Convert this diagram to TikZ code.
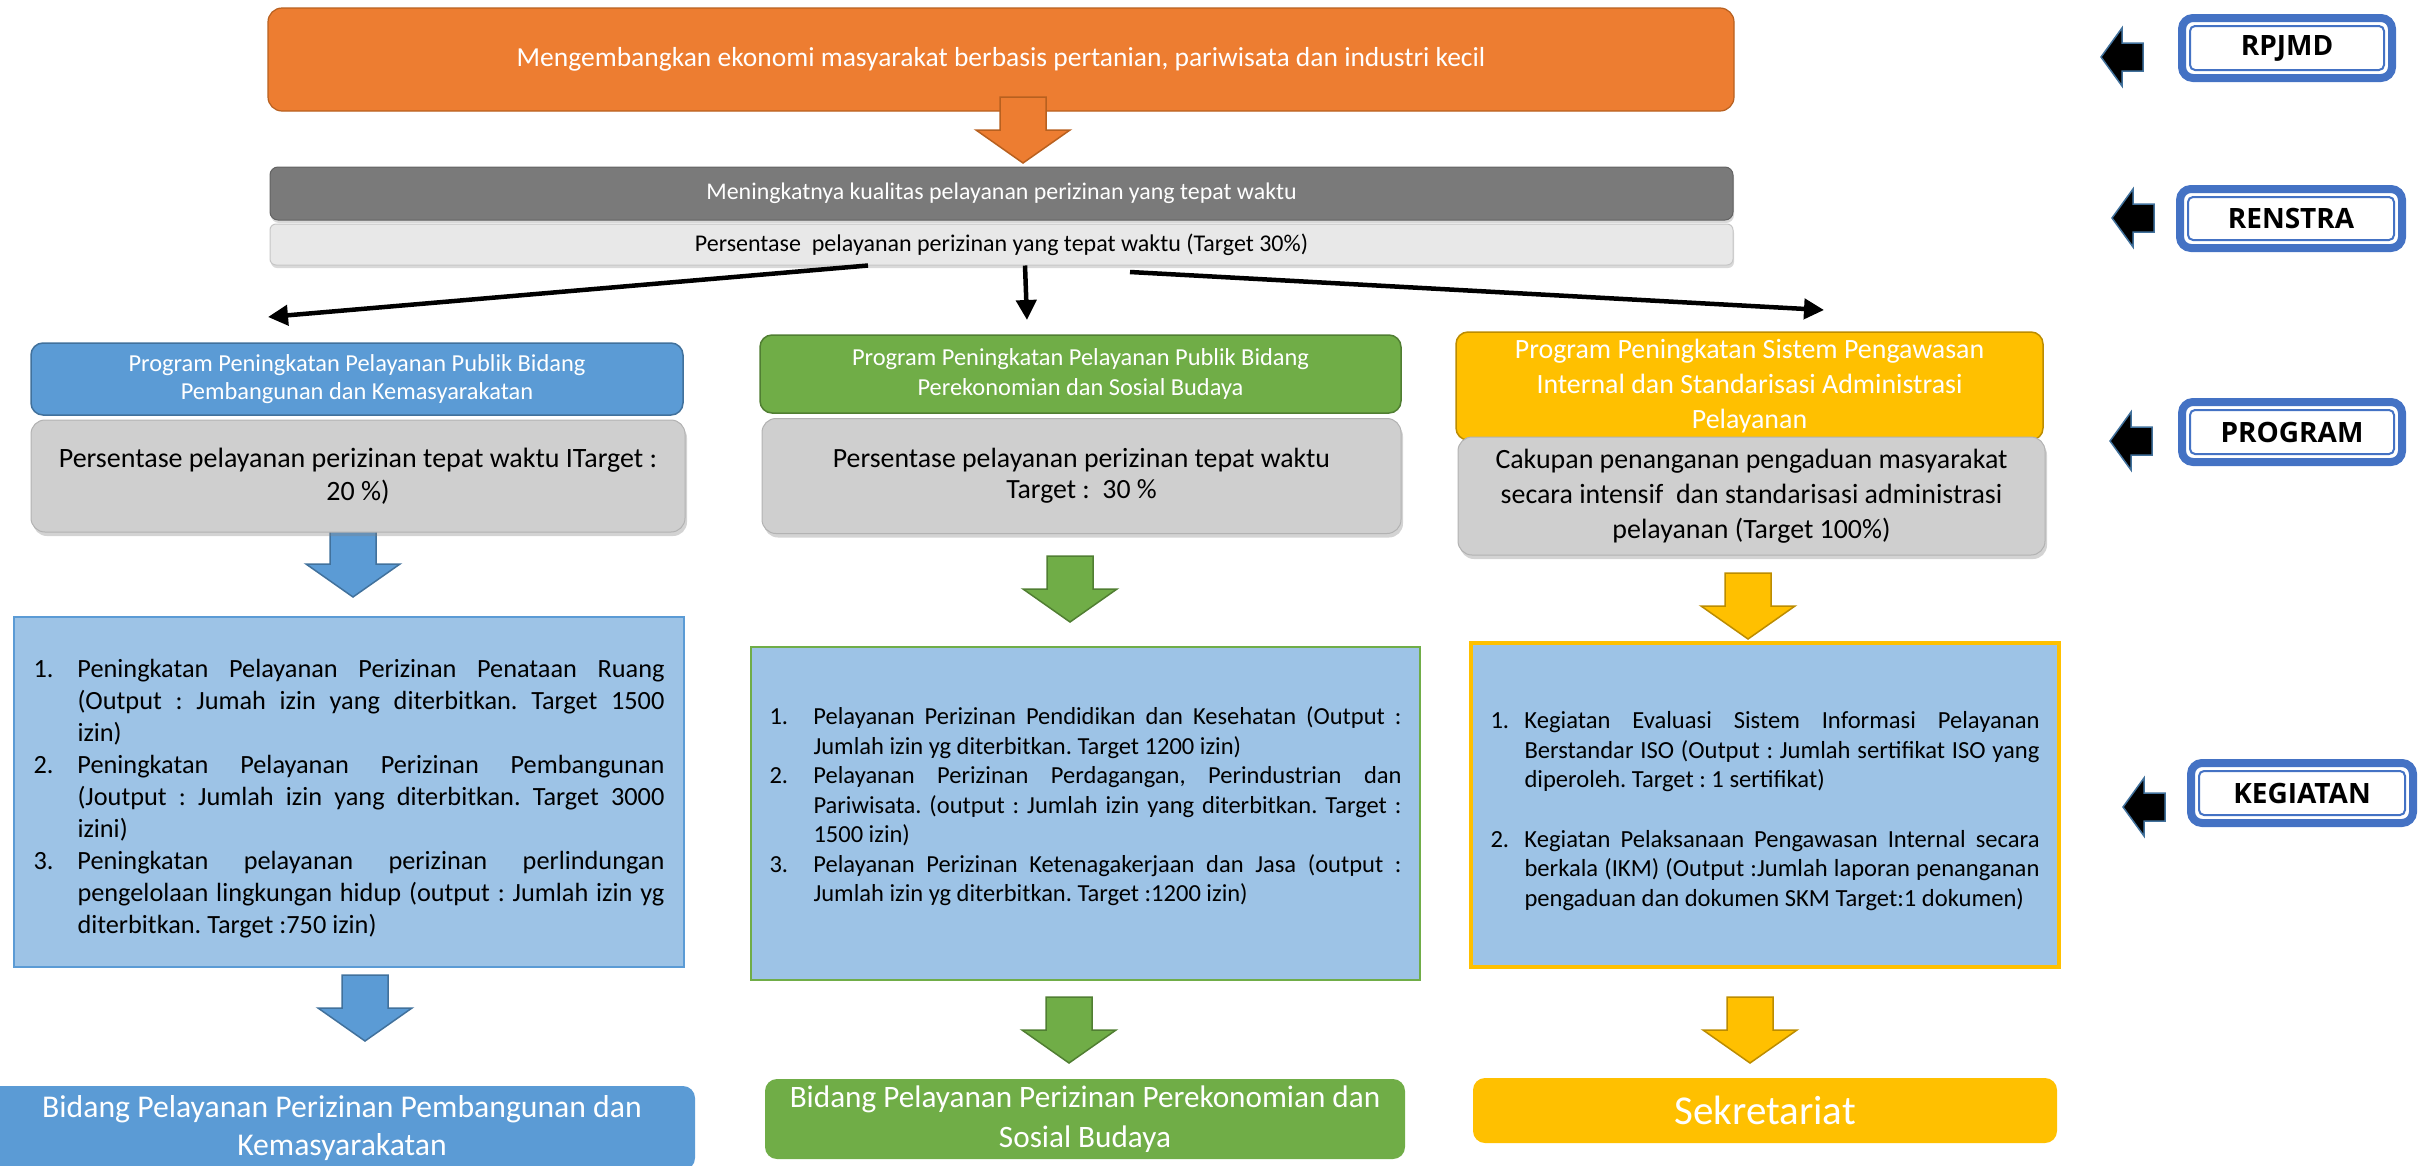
\documentclass[tikz,border=0pt]{standalone}
\usepackage{fontspec}
\setmainfont{Carlito}
\newfontfamily\tagfont{Open Sans}
\usetikzlibrary{arrows.meta,positioning,shadows,calc}

\definecolor{orangeMain}{HTML}{ED7D31}
\definecolor{orangeEdge}{HTML}{B8601F}
\definecolor{grayDark}{HTML}{7A7A7A}
\definecolor{grayLight}{HTML}{E8E8E8}
\definecolor{grayInd}{HTML}{CFCFCF}
\definecolor{blueProg}{HTML}{5B9BD5}
\definecolor{blueEdge}{HTML}{41719C}
\definecolor{greenProg}{HTML}{70AD47}
\definecolor{greenEdge}{HTML}{507E32}
\definecolor{yellowProg}{HTML}{FFC000}
\definecolor{yellowEdge}{HTML}{BC8C00}
\definecolor{kegFill}{HTML}{9DC3E6}
\definecolor{tagBlue}{HTML}{4472C4}

\newcommand{\fsz}[2]{\fontsize{#1}{#2}\selectfont}
\newcommand{\kitem}[2]{\par\hangindent=#1pt\hangafter=1\noindent\makebox[#1pt][l]{#2}\ignorespaces}
\tolerance=10000
\hbadness=10000
\frenchspacing

\tikzset{
  visibox/.style={fill=orangeMain, draw=orangeEdge, line width=1.2pt, rounded corners=14pt, text=white, font=\fsz{27.5}{32}},
  tujuanbox/.style={fill=grayDark, draw=grayDark!80!black, line width=1pt, rounded corners=8pt, text=white, font=\fsz{23.9}{28},
    drop shadow={opacity=0.3, shadow xshift=1pt, shadow yshift=-3pt}},
  indbox/.style={fill=grayLight, draw=gray!45, line width=1pt, rounded corners=6pt, font=\fsz{24}{28},
    drop shadow={opacity=0.3, shadow xshift=1pt, shadow yshift=-3pt}},
  progbox/.style={rounded corners=12pt, line width=1.5pt, text=white},
  ikbox/.style={fill=grayInd, draw=gray!60, line width=1pt, rounded corners=14pt,
    drop shadow={opacity=0.35, shadow xshift=2pt, shadow yshift=-4pt}},
  kegbox/.style={fill=kegFill, line width=2.5pt, align=justify},
  bidbox/.style={rounded corners=12pt, text=white},
  tagbox/.style={draw=tagBlue, line width=8pt, rounded corners=11pt, fill=white, font=\tagfont\fsz{28}{32}\bfseries},
  taginner/.style={draw=tagBlue, line width=2pt, rounded corners=5pt},
  link/.style={line width=4.5pt, -{Triangle[length=20pt,width=20pt]}},
  downblock/.pic={\draw[pic actions, line width=1.5pt] (-23,0) -- (23,0) -- (23,33) -- (47,33) -- (0,66) -- (-47,33) -- (-23,33) -- cycle;},
  leftblock/.pic={\draw[pic actions, line width=1.5pt] (0,0) -- (21,-29) -- (21,-14) -- (42,-14) -- (42,14) -- (21,14) -- (21,29) -- cycle;},
}

\begin{document}
\begin{tikzpicture}[x=1pt,y=-1pt, every node/.style={inner sep=0pt, align=center}]
\clip (0,0) rectangle (2428,1165);

% visi
\node[visibox, minimum width=1466, minimum height=103] (visi) at (1001,59.5)
  {Mengembangkan ekonomi masyarakat berbasis pertanian, pariwisata dan industri kecil};
\pic[fill=orangeMain, draw=orangeEdge] at (1023,97) {downblock};

% renstra
\node[tujuanbox, minimum width=1463, minimum height=53] (tujuan) at (1001.5,193.5)
  {Meningkatnya kualitas pelayanan perizinan yang tepat waktu};
\node[indbox, minimum width=1463, minimum height=41] (indikator) at (1001.5,244.5)
  {Persentase\ \ pelayanan perizinan yang tepat waktu (Target 30\%)};

\coordinate (toB) at (268,317);
\coordinate (toG) at (1027,320);
\coordinate (toY) at (1824,310);
\draw[link] (868,0 |- indikator.south) -- (toB);
\draw[link] (1025,0 |- indikator.south) -- (toG);
\draw[link] (1130,272) -- (toY);

% program
\node[progbox, fill=blueProg, draw=blueEdge, font=\fsz{24.4}{28}, minimum width=652, minimum height=72] (progB) at (357,379)
  {Program Peningkatan Pelayanan Publik Bidang\\Pembangunan dan Kemasyarakatan};
\node[progbox, fill=greenProg, draw=greenEdge, font=\fsz{24.4}{30}, minimum width=641, minimum height=78] (progG) at (1080.5,374)
  {Program Peningkatan Pelayanan Publik Bidang\\Perekonomian dan Sosial Budaya};
\node[progbox, fill=yellowProg, draw=yellowEdge, font=\fsz{27.9}{35}, minimum width=587, minimum height=108] (progY) at (1749.5,386)
  {Program Peningkatan Sistem Pengawasan\\Internal dan Standarisasi Administrasi\\Pelayanan};

\pic[fill=blueProg, draw=blueEdge] at (353,531) {downblock};
\pic[fill=greenProg, draw=greenEdge] at (1070,556) {downblock};
\pic[fill=yellowProg, draw=yellowEdge] at (1748,573) {downblock};

\node[ikbox, font=\fsz{28}{33}, minimum width=654, minimum height=112] (ikB) at (358,476)
  {Persentase pelayanan perizinan tepat waktu ITarget :\\20 \%)};
\node[ikbox, font=\fsz{27.8}{31}, minimum width=639, minimum height=115] (ikG) at (1081.5,476)
  {Persentase pelayanan perizinan tepat waktu\\Target :\ \ 30 \%};
\node[ikbox, font=\fsz{27.9}{35}, minimum width=587, minimum height=118] (ikY) at (1751.5,496)
  {Cakupan penanganan pengaduan masyarakat\\secara intensif\ \ dan standarisasi administrasi\\pelayanan (Target 100\%)};

% kegiatan
\node[kegbox, draw=blueProg, font=\fsz{26.3}{32}, text width=631pt, minimum width=670, minimum height=350] (kegB) at (349,792) {%
\kitem{44}{1.}Peningkatan Pelayanan Perizinan Penataan Ruang\linebreak (Output : Jumah izin yang diterbitkan. Target 1500\linebreak izin)
\kitem{44}{2.}Peningkatan Pelayanan Perizinan Pembangunan\linebreak (Joutput : Jumlah izin yang diterbitkan. Target 3000\linebreak izini)
\kitem{44}{3.}Peningkatan pelayanan perizinan perlindungan\linebreak pengelolaan lingkungan hidup (output : Jumlah izin yg\linebreak diterbitkan. Target :750 izin)\par};
\node[kegbox, draw=greenProg, font=\fsz{24.5}{29.5}, text width=632pt, minimum width=669, minimum height=333] (kegG) at (1085.5,813.5) {%
\vspace*{-26pt}
\kitem{44}{1.}Pelayanan Perizinan Pendidikan dan Kesehatan (Output :\linebreak Jumlah izin yg diterbitkan. Target 1200 izin)
\kitem{44}{2.}Pelayanan Perizinan Perdagangan, Perindustrian dan\linebreak Pariwisata. (output : Jumlah izin yang diterbitkan. Target :\linebreak 1500 izin)
\kitem{44}{3.}Pelayanan Perizinan Ketenagakerjaan dan Jasa (output :\linebreak Jumlah izin yg diterbitkan. Target :1200 izin)\par};
\node[kegbox, draw=yellowProg, line width=3.5pt, font=\fsz{24.6}{29.5}, text width=549pt, minimum width=588, minimum height=324] (kegY) at (1765,805) {%
\kitem{34}{1.}Kegiatan Evaluasi Sistem Informasi Pelayanan\linebreak Berstandar ISO (Output : Jumlah sertifikat ISO yang\linebreak diperoleh. Target : 1 sertifikat)
\par\vspace{30pt}
\kitem{34}{2.}Kegiatan Pelaksanaan Pengawasan Internal secara\linebreak berkala (IKM) (Output :Jumlah laporan penanganan\linebreak pengaduan dan dokumen SKM Target:1 dokumen)\par};

\pic[fill=blueProg, draw=blueEdge] at (365,975) {downblock};
\pic[fill=greenProg, draw=greenEdge] at (1069,997) {downblock};
\pic[fill=yellowProg, draw=yellowEdge] at (1750,997) {downblock};

% bidang
\node[bidbox, fill=blueProg, font=\fsz{31.7}{38}, minimum width=706, minimum height=84] (bidB) at (342,1128)
  {Bidang Pelayanan Perizinan Pembangunan dan\\Kemasyarakatan};
\node[bidbox, fill=greenProg, font=\fsz{31.2}{40}, minimum width=640, minimum height=80] (bidG) at (1085,1119)
  {Bidang Pelayanan Perizinan Perekonomian dan\\Sosial Budaya};
\node[bidbox, fill=yellowProg, font=\fsz{41}{46}, minimum width=584, minimum height=65] (bidY) at (1765,1110.5)
  {Sekretariat};

% tahapan
\node[tagbox, minimum width=210, minimum height=60] (rpjmd) at (2287,48) {RPJMD};
\node[tagbox, minimum width=222, minimum height=59] (renstra) at (2291,218.5) {RENSTRA};
\node[tagbox, minimum width=220, minimum height=60] (program) at (2292,432) {PROGRAM};
\node[tagbox, minimum width=222, minimum height=60] (kegiatan) at (2302,793) {KEGIATAN};
\foreach \t in {rpjmd,renstra,program,kegiatan}
  \draw[taginner] ($(\t.north west)+(12,12)$) rectangle ($(\t.south east)+(-12,-12)$);

\pic[fill=black, draw=blueEdge] at (2101,57) {leftblock};
\pic[fill=black, draw=blueEdge] at (2112,218) {leftblock};
\pic[fill=black, draw=blueEdge] at (2110,441) {leftblock};
\pic[fill=black, draw=blueEdge] at (2123,807) {leftblock};
\end{tikzpicture}
\end{document}
